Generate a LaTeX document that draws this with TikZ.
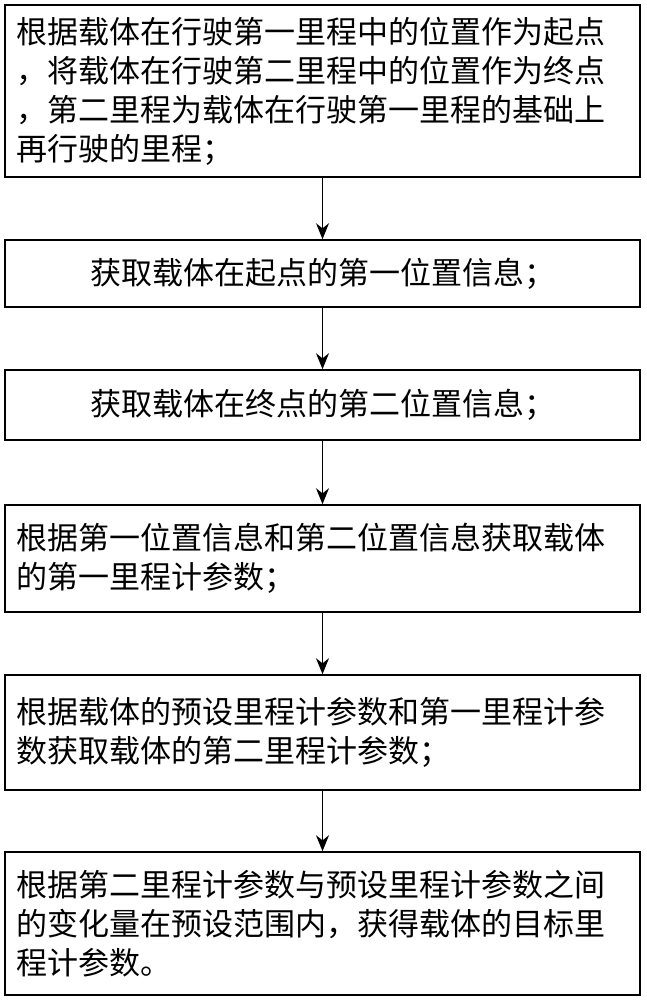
\documentclass[tikz,border=0pt]{standalone}
\usepackage{fontspec}
\newfontfamily\cjk{Noto Sans CJK SC}
\usetikzlibrary{arrows.meta}
\begin{document}
\begin{tikzpicture}[
    x=0.5pt, y=-0.5pt,
    >={Stealth[length=8pt,width=6.5pt]},
    stepbox/.style={draw, line width=0.8pt, minimum width=317.5pt, text width=306pt,
      inner xsep=5pt, align=left, font=\cjk\fontsize{15.5pt}{19.5pt}\selectfont},
    flow/.style={->, line width=0.8pt}
  ]
  \useasboundingbox (0,0) rectangle (647,1000);
  \node[stepbox, minimum height=86pt] (start) at (322.5,91) {根据载体在行驶第一里程中的位置作为起点\\，将载体在行驶第二里程中的位置作为终点\\，第二里程为载体在行驶第一里程的基础上\\再行驶的里程；};
  \node[stepbox, align=center, minimum height=33.5pt] (first) at (322.5,273.5) {获取载体在起点的第一位置信息；};
  \node[stepbox, align=center, minimum height=35pt] (second) at (322.5,405) {获取载体在终点的第二位置信息；};
  \node[stepbox, minimum height=53.5pt] (odoa) at (322.5,558.5) {根据第一位置信息和第二位置信息获取载体\\的第一里程计参数；};
  \node[stepbox, minimum height=57.5pt] (odob) at (322.5,732.5) {根据载体的预设里程计参数和第一里程计参\\数获取载体的第二里程计参数；};
  \node[stepbox, minimum height=71.5pt] (target) at (322.5,923.5) {根据第二里程计参数与预设里程计参数之间\\的变化量在预设范围内，获得载体的目标里\\程计参数。};

  \draw[flow] (start) -- (first);
  \draw[flow] (first) -- (second);
  \draw[flow] (second) -- (odoa);
  \draw[flow] (odoa) -- (odob);
  \draw[flow] (odob) -- (target);
\end{tikzpicture}
\end{document}
